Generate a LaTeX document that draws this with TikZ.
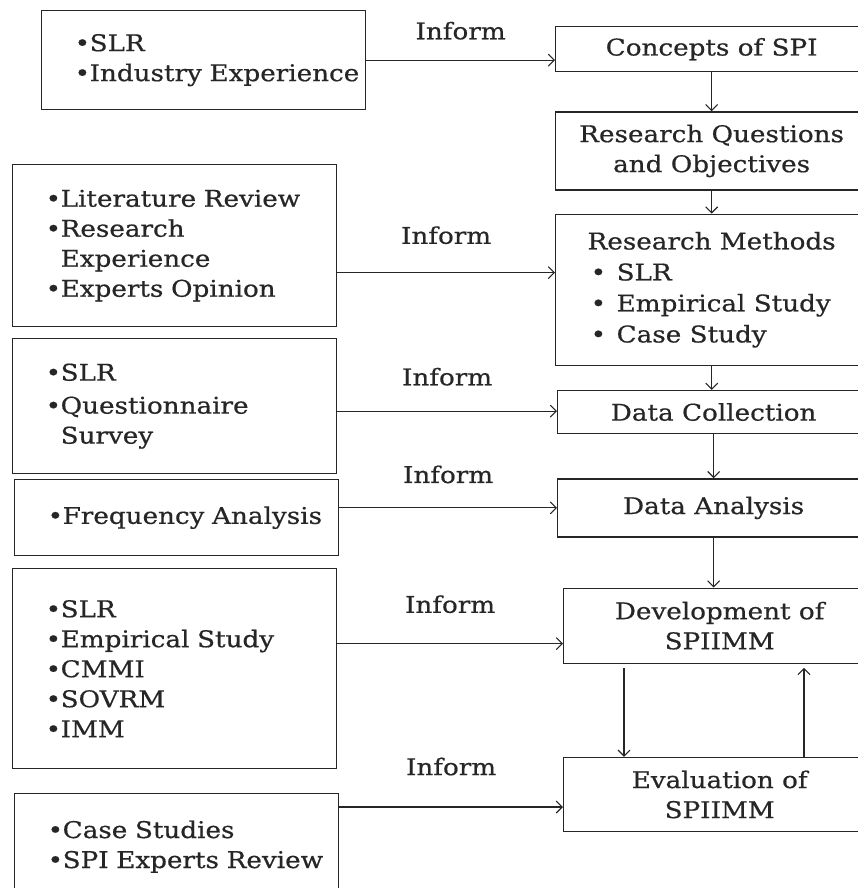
\documentclass[tikz,border=0pt]{standalone}
\usepackage{fontspec}
\setmainfont{DejaVu Serif}[FakeStretch=1.14, FakeBold=0.6]
\usetikzlibrary{arrows.meta,positioning}

% bullet lines for the source boxes
\newcommand{\blt}[1]{\hspace*{29pt}\makebox[15pt][l]{\textbullet}#1}
\newcommand{\cnt}[1]{\hspace*{44pt}#1}
% bullet lines inside the methods box
\newcommand{\mth}[1]{\makebox[250pt][l]{\hspace*{4pt}\makebox[26pt][l]{\textbullet}#1}}

\begin{document}
\begin{tikzpicture}[
    x=1pt, y=-1pt,
    font=\fontsize{23}{30}\selectfont,
    color=black!85,
    src/.style={rectangle, draw, line width=1.3pt, text width=316pt, inner xsep=4pt, align=left, anchor=north west},
    stage/.style={rectangle, draw, line width=1.3pt, minimum width=312pt, align=center},
    arr/.style={-{Straight Barb[length=6pt,width=12pt]}, line width=1.1pt},
    lbl/.style={inner sep=0pt}
]
    \useasboundingbox (0,0) rectangle (858,888);
    \clip (0,0) rectangle (858,888);

    % Main stages
    \node[stage, minimum height=45pt, anchor=north west] (concepts) at (555,26) {Concepts of SPI};
    \node[stage, minimum height=78pt, below=39pt of concepts] (questions) {Research Questions\\and Objectives};
    \node[stage, minimum height=151pt, below=23pt of questions] (methods) {Research Methods\\[1pt]\mth{SLR}\\[1pt]\mth{Empirical Study}\\[1pt]\mth{Case Study}};
    \node[stage, minimum height=43pt, below=24pt of methods, xshift=2pt] (collect) {Data Collection};
    \node[stage, minimum height=58pt, below=44pt of collect] (analysis) {Data Analysis};
    \node[stage, minimum height=75pt, below=50pt of analysis, xshift=6pt] (develop) {Development of\\SPIIMM};
    \node[stage, minimum height=74pt, below=93pt of develop] (evaluate) {Evaluation of\\SPIIMM};

    % Sources
    \node[src, minimum height=99pt] (industry) at (41,10) {\blt{SLR}\\\blt{Industry Experience}};
    \node[src, minimum height=162pt] (litrev) at (12,164) {\blt{Literature Review}\\\blt{Research}\\\cnt{Experience}\\\blt{Experts Opinion}};
    \node[src, minimum height=135pt] (survey) at (12,338) {\blt{SLR}\\[3pt]\blt{Questionnaire}\\\cnt{Survey}};
    \node[src, minimum height=76pt] (freq) at (14,479) {\blt{Frequency Analysis}};
    \node[src, minimum height=200pt] (models) at (12,568) {\blt{SLR}\\\blt{Empirical Study}\\\blt{CMMI}\\\blt{SOVRM}\\\blt{IMM}};
    \node[src, minimum height=106pt] (cases) at (14,793) {\blt{Case Studies}\\\blt{SPI Experts Review}};

    \coordinate (in2) at ([yshift=-27pt]litrev.east);
    \coordinate (in3) at ([yshift=-5pt]survey.east);
    \coordinate (in5) at ([yshift=25pt]models.east);
    \coordinate (in6) at ([yshift=-14pt]cases.north east);

    % Inform arrows
    \draw[arr] (industry.east) -- (industry.east -| concepts.west) node[lbl, midway, above=20pt] {Inform};
    \draw[arr] (in2) -- (in2 -| methods.west) node[lbl, midway, above=28pt] {Inform};
    \draw[arr] (in3) -- (in3 -| collect.west) node[lbl, midway, above=25pt] {Inform};
    \draw[arr] (freq.east |- analysis) -- (analysis.west) node[lbl, midway, above=24pt] {Inform};
    \draw[arr] (in5) -- (in5 -| develop.west) node[lbl, midway, above=30pt] {Inform};
    \draw[arr] (in6) -- (in6 -| evaluate.west) node[lbl, midway, above=31pt] {Inform};

    % Flow between stages
    \draw[arr] (concepts) -- (questions);
    \draw[arr] (questions) -- (methods);
    \draw[arr] (methods.south) -- (methods.south |- collect.north);
    \draw[arr] (collect) -- (analysis);
    \draw[arr] (analysis.south) -- (analysis.south |- develop.north);
    \draw[arr, shorten <=4pt] ([xshift=61pt]develop.south west) -- ([xshift=61pt]evaluate.north west);
    \draw[arr, shorten >=4pt] ([xshift=241pt]evaluate.north west) -- ([xshift=241pt]develop.south west);
\end{tikzpicture}
\end{document}
